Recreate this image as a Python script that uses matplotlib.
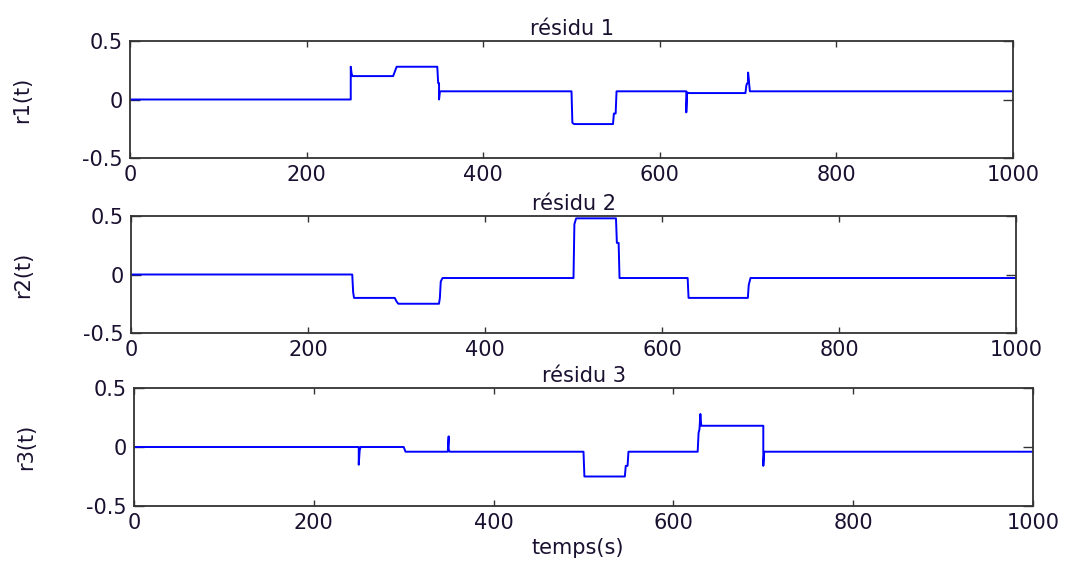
import matplotlib
matplotlib.use('Agg')
import matplotlib.pyplot as plt

# residual vertices (time, value)
t1 = [0, 250, 250, 251, 252, 298, 300, 302, 348, 349, 350, 350, 351, 500, 501, 503, 547, 548, 550, 551,
      630, 630, 631, 633, 697, 698, 699, 700, 700, 702, 1000]
r1 = [0, 0, 0.28, 0.22, 0.2, 0.2, 0.24, 0.28, 0.28, 0.14, 0.14, 0.0, 0.07, 0.07, -0.2, -0.21, -0.21, -0.12, -0.12, 0.07,
      0.07, -0.11, 0.06, 0.055, 0.055, 0.12, 0.14, 0.14, 0.23, 0.07, 0.07]

t2 = [0, 250, 251, 252, 298, 300, 302, 348, 349, 350, 352, 500, 501, 503, 548, 549, 551, 552,
      629, 630, 697, 698, 700, 1000]
r2 = [0, 0, -0.15, -0.2, -0.2, -0.23, -0.25, -0.25, -0.2, -0.06, -0.03, -0.03, 0.43, 0.48, 0.48, 0.27, 0.27, -0.03,
      -0.03, -0.2, -0.2, -0.09, -0.03, -0.03]

t3 = [0, 250, 250, 251, 252, 300, 302, 349, 350, 350, 351, 352, 500, 501, 546, 547, 549, 550,
      627, 628, 629, 630, 631, 700, 700, 701, 1000]
r3 = [0, 0, -0.15, -0.03, 0, 0, -0.04, -0.04, 0.09, -0.02, -0.04, -0.04, -0.04, -0.25, -0.25, -0.16, -0.16, -0.04,
      -0.04, 0.12, 0.15, 0.28, 0.18, 0.18, -0.16, -0.04, -0.04]

titles = ['résidu 1', 'résidu 2', 'résidu 3']
ylabels = ['r1(t)', 'r2(t)', 'r3(t)']
xticks = [0, 200, 400, 600, 800, 1000]
yticks = [-0.5, 0, 0.5]
yticklabels = ['-0.5', '0', '0.5']

W, H = 1073, 562
# axes boxes in pixels: left, right, top, bottom
boxes = [(130, 1013, 41, 158), (131, 1016, 216, 333), (134, 1033, 388, 506)]

plt.rcParams['font.family'] = ['DejaVu Sans']
fig = plt.figure(figsize=(W / 100, H / 100), dpi=100)

fs = 15
for (l, r, top, b), tt, rr, ti, yl in zip(boxes, [t1, t2, t3], [r1, r2, r3], titles, ylabels):
    ax = fig.add_axes([l / W, 1 - b / H, (r - l) / W, (b - top) / H])
    ax.plot(tt, rr, color='#0000ff', lw=1.4, zorder=3)
    ax.set_xlim(0, 1000)
    ax.set_ylim(-0.5, 0.5)
    ax.set_xticks(xticks)
    ax.set_yticks(yticks)
    ax.set_yticklabels(yticklabels)
    ax.tick_params(direction='in', top=True, right=True, labelsize=fs, width=1, color='#333333',
                   labelcolor='#1a1030')
    ax.tick_params(axis='x', length=4, pad=5)
    ax.tick_params(axis='y', length=7, pad=5)
    for s in ax.spines.values():
        s.set_linewidth(1.3)
        s.set_color('#333333')
        s.set_zorder(4)
    ax.set_title(ti, fontsize=fs, pad=4, color='#1a1030')
    ax.set_ylabel(yl, fontsize=fs, labelpad=36, color='#1a1030')

fig.text(578 / W, 1 - 548 / H, 'temps(s)', fontsize=fs, ha='center', va='center', color='#1a1030')

fig.savefig('out.png', dpi=100)
